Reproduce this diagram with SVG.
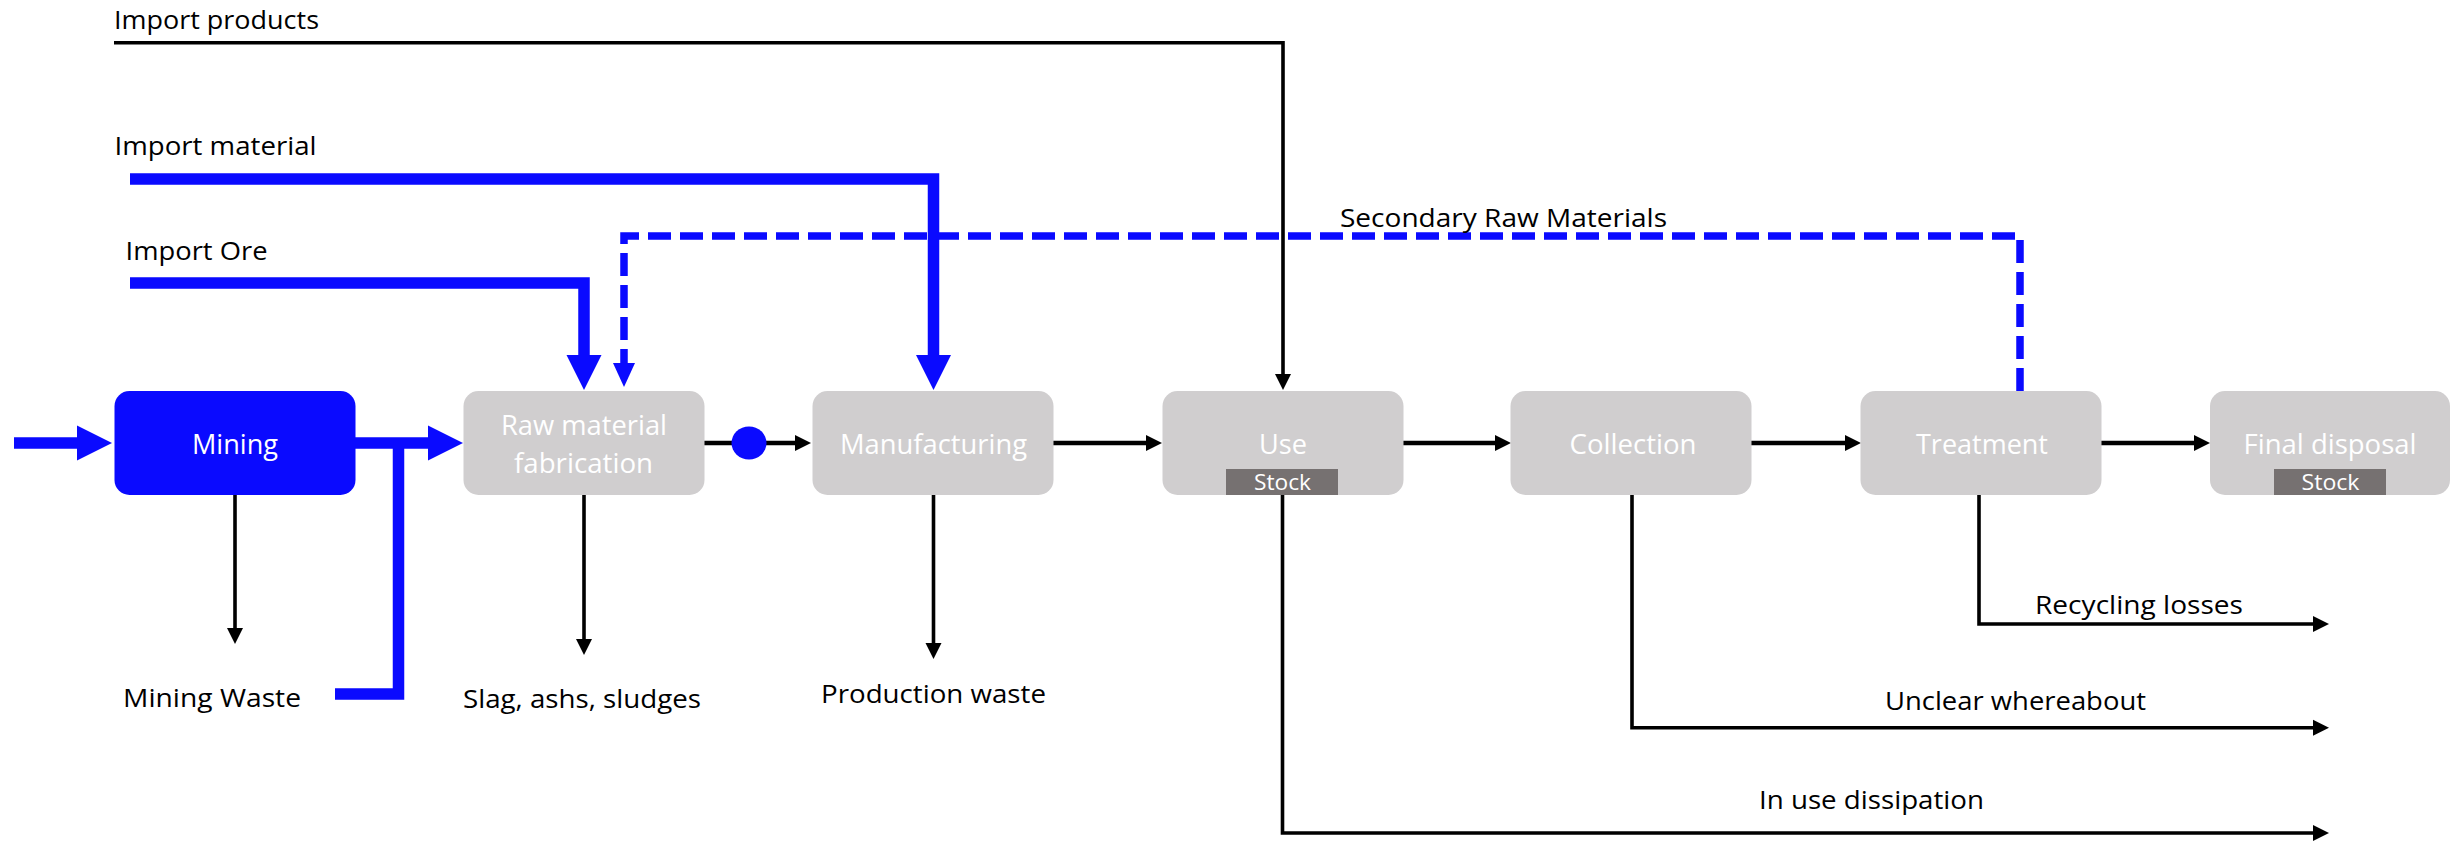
<svg xmlns="http://www.w3.org/2000/svg" width="2460" height="842" viewBox="0 0 2460 842">
  <style>
    .node { fill: #D0CECF; }
    .node-main { fill: #0A0AFF; }
    .stock { fill: #767171; }
    .ntext { font-family: "Open Sans", "Liberation Sans", sans-serif; font-size: 27px; fill: #FFFFFF; text-anchor: middle; }
    .stext { font-family: "Open Sans", "Liberation Sans", sans-serif; font-size: 21px; fill: #FFFFFF; text-anchor: middle; }
    .label { font-family: "Open Sans", "Liberation Sans", sans-serif; font-size: 26px; fill: #000000; }
    .flow { fill: none; stroke: #000000; stroke-width: 4.5; stroke-linejoin: miter; }
    .thin { fill: none; stroke: #000000; stroke-width: 3.6; stroke-linejoin: miter; }
    .blue { fill: none; stroke: #0A0AFF; stroke-width: 11.5; stroke-linejoin: miter; }
    .dash { fill: none; stroke: #0A0AFF; stroke-width: 7.5; stroke-dasharray: 23 9; stroke-linejoin: miter; }
  </style>
  <defs>
    <marker id="ahBig" markerUnits="userSpaceOnUse" viewBox="0 -18 36 36" markerWidth="36" markerHeight="36" refX="0" refY="0" orient="auto" overflow="visible">
      <path d="M0,-17.5 L35,0 L0,17.5 Z" fill="#0A0AFF"/>
    </marker>
    <marker id="ahDash" markerUnits="userSpaceOnUse" viewBox="0 -12 25 24" markerWidth="25" markerHeight="24" refX="0" refY="0" orient="auto" overflow="visible">
      <path d="M0,-11 L24,0 L0,11 Z" fill="#0A0AFF"/>
    </marker>
    <marker id="ahBlack" markerUnits="userSpaceOnUse" viewBox="0 -9 17 18" markerWidth="17" markerHeight="18" refX="0" refY="0" orient="auto" overflow="visible">
      <path d="M0,-8 L16,0 L0,8 Z" fill="#000000"/>
    </marker>
  </defs>

  <rect width="2460" height="842" fill="#FFFFFF"/>

  <!-- connectors -->
  <g id="connectors">
    <!-- primary material path -->
    <path class="blue" d="M14,443 H77" marker-end="url(#ahBig)"/>
    <path class="blue" d="M355,443 H428" marker-end="url(#ahBig)"/>
    <path class="blue" d="M335,694 H398.5 V446"/>
    <path class="blue" d="M130,179 H933.5 V355" marker-end="url(#ahBig)"/>
    <path class="blue" d="M130,283 H584 V355" marker-end="url(#ahBig)"/>
    <!-- secondary raw materials loop -->
    <path class="dash" d="M2020,391 V236 H624 V363" marker-end="url(#ahDash)"/>
    <!-- imported products -->
    <path class="thin" d="M114,42.7 H1283 V374" stroke-width="3.3" marker-end="url(#ahBlack)"/>
    <!-- main chain -->
    <path class="flow" d="M703,443 H795" marker-end="url(#ahBlack)"/>
    <ellipse cx="749" cy="443" rx="17.5" ry="16.5" fill="#0A0AFF"/>
    <path class="flow" d="M1053,443 H1146" marker-end="url(#ahBlack)"/>
    <path class="flow" d="M1403,443 H1495" marker-end="url(#ahBlack)"/>
    <path class="flow" d="M1751,443 H1845" marker-end="url(#ahBlack)"/>
    <path class="flow" d="M2101,443 H2194" marker-end="url(#ahBlack)"/>
    <!-- process losses -->
    <path class="thin" d="M235,495 V628" marker-end="url(#ahBlack)"/>
    <path class="thin" d="M584,495 V639" marker-end="url(#ahBlack)"/>
    <path class="thin" d="M933.5,495 V643" marker-end="url(#ahBlack)"/>
    <!-- outflows -->
    <path class="thin" d="M1282.5,495 V833 H2313" stroke-width="4" marker-end="url(#ahBlack)"/>
    <path class="thin" d="M1632,495 V727.7 H2313" stroke-width="4" marker-end="url(#ahBlack)"/>
    <path class="thin" d="M1979,495 V624 H2313" stroke-width="4" marker-end="url(#ahBlack)"/>
  </g>

  <!-- nodes -->
  <g id="node-mining">
    <rect class="node-main" x="114.5" y="391" width="241" height="104" rx="15" ry="15"/>
    <text class="ntext" x="235" y="454" textLength="86" lengthAdjust="spacingAndGlyphs">Mining</text>
  </g>
  <g id="node-raw-material">
    <rect class="node" x="463.5" y="391" width="241" height="104" rx="15" ry="15"/>
    <text class="ntext" x="584" y="435" textLength="166" lengthAdjust="spacingAndGlyphs">Raw material</text>
    <text class="ntext" x="583.5" y="472.5" textLength="139" lengthAdjust="spacingAndGlyphs">fabrication</text>
  </g>
  <g id="node-manufacturing">
    <rect class="node" x="812.5" y="391" width="241" height="104" rx="15" ry="15"/>
    <text class="ntext" x="933.5" y="454" textLength="187" lengthAdjust="spacingAndGlyphs">Manufacturing</text>
  </g>
  <g id="node-use">
    <rect class="node" x="1162.5" y="391" width="241" height="104" rx="15" ry="15"/>
    <text class="ntext" x="1283" y="454" textLength="48" lengthAdjust="spacingAndGlyphs">Use</text>
    <rect class="stock" x="1226" y="469" width="112" height="26"/>
    <text class="stext" x="1282.5" y="490" textLength="57" lengthAdjust="spacingAndGlyphs">Stock</text>
  </g>
  <g id="node-collection">
    <rect class="node" x="1510.5" y="391" width="241" height="104" rx="15" ry="15"/>
    <text class="ntext" x="1633" y="454" textLength="127" lengthAdjust="spacingAndGlyphs">Collection</text>
  </g>
  <g id="node-treatment">
    <rect class="node" x="1860.5" y="391" width="241" height="104" rx="15" ry="15"/>
    <text class="ntext" x="1982" y="454" textLength="132" lengthAdjust="spacingAndGlyphs">Treatment</text>
  </g>
  <g id="node-final-disposal">
    <rect class="node" x="2210" y="391" width="240" height="104" rx="15" ry="15"/>
    <text class="ntext" x="2330" y="454" textLength="173" lengthAdjust="spacingAndGlyphs">Final disposal</text>
    <rect class="stock" x="2274" y="469" width="112" height="26"/>
    <text class="stext" x="2330.5" y="490" textLength="58" lengthAdjust="spacingAndGlyphs">Stock</text>
  </g>

  <!-- flow labels -->
  <g id="labels">
    <text class="label" x="114" y="29" textLength="205" lengthAdjust="spacingAndGlyphs">Import products</text>
    <text class="label" x="114.5" y="155" textLength="202" lengthAdjust="spacingAndGlyphs">Import material</text>
    <text class="label" x="125.5" y="260" textLength="142" lengthAdjust="spacingAndGlyphs">Import Ore</text>
    <text class="label" x="1340" y="227" textLength="327" lengthAdjust="spacingAndGlyphs">Secondary Raw Materials</text>
    <text class="label" x="123" y="707" textLength="178" lengthAdjust="spacingAndGlyphs">Mining Waste</text>
    <text class="label" x="463" y="708" textLength="238" lengthAdjust="spacingAndGlyphs">Slag, ashs, sludges</text>
    <text class="label" x="821" y="703" textLength="225" lengthAdjust="spacingAndGlyphs">Production waste</text>
    <text class="label" x="2035" y="614" textLength="208" lengthAdjust="spacingAndGlyphs">Recycling losses</text>
    <text class="label" x="1885" y="709.5" textLength="261" lengthAdjust="spacingAndGlyphs">Unclear whereabout</text>
    <text class="label" x="1759" y="809" textLength="225" lengthAdjust="spacingAndGlyphs">In use dissipation</text>
  </g>
</svg>
